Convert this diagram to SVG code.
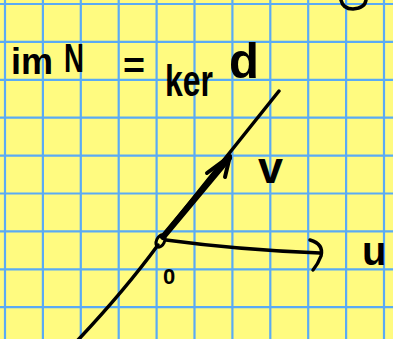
<svg xmlns="http://www.w3.org/2000/svg" width="393" height="339" viewBox="0 0 393 339">
<defs>
<style>
.grid line{stroke:#5aabf5;stroke-width:2.2}
.ink{fill:none;stroke:#000;stroke-linecap:round;stroke-linejoin:round}
.hand{font-family:"Liberation Sans","DejaVu Sans",sans-serif;font-weight:bold;fill:#000}
</style>
</defs>
<rect width="393" height="339" fill="#fffb80"/>
<g class="grid">
<line x1="5" y1="0" x2="5" y2="339"/><line x1="42.9" y1="0" x2="42.9" y2="339"/><line x1="80.8" y1="0" x2="80.8" y2="339"/><line x1="118.7" y1="0" x2="118.7" y2="339"/><line x1="156.6" y1="0" x2="156.6" y2="339"/><line x1="194.5" y1="0" x2="194.5" y2="339"/><line x1="232.4" y1="0" x2="232.4" y2="339"/><line x1="270.3" y1="0" x2="270.3" y2="339"/><line x1="308.2" y1="0" x2="308.2" y2="339"/><line x1="346.1" y1="0" x2="346.1" y2="339"/><line x1="384" y1="0" x2="384" y2="339"/>
<line x1="0" y1="4" x2="393" y2="4"/><line x1="0" y1="41.9" x2="393" y2="41.9"/><line x1="0" y1="79.8" x2="393" y2="79.8"/><line x1="0" y1="117.7" x2="393" y2="117.7"/><line x1="0" y1="155.6" x2="393" y2="155.6"/><line x1="0" y1="193.5" x2="393" y2="193.5"/><line x1="0" y1="231.4" x2="393" y2="231.4"/><line x1="0" y1="269.3" x2="393" y2="269.3"/><line x1="0" y1="307.2" x2="393" y2="307.2"/>
</g>
<g id="connectors">
<path class="ink" stroke-width="3.5" d="M78,340 Q125,290 158,245 M163,236 L279,91"/>
<path class="ink" stroke-width="6" d="M163,237 L229,158"/>
<path class="ink" stroke-width="4" d="M207,173 L230,156 L225,177"/>
<path class="ink" stroke-width="3.5" d="M166,240 Q240,250 320,253"/>
<path class="ink" stroke-width="3.5" d="M310,240 Q324,244 321,256 Q318,264 313,270"/>
<ellipse class="ink" stroke-width="3" cx="160.5" cy="241" rx="4" ry="6.5" transform="rotate(25 160.5 241)"/>
<path class="ink" stroke-width="3.5" d="M341,0 Q343,9 353,9 Q365,8 366,0"/>
</g>
<g id="label-title">
<text class="hand" font-size="36" x="11" y="74" textLength="42" lengthAdjust="spacingAndGlyphs">im</text>
<text class="hand" font-size="40" x="64" y="72" textLength="20" lengthAdjust="spacingAndGlyphs">N</text>
<text class="hand" font-size="36" x="123" y="78" textLength="22" lengthAdjust="spacingAndGlyphs">=</text>
<text class="hand" font-size="44" x="165" y="96" textLength="48" lengthAdjust="spacingAndGlyphs">ker</text>
<text class="hand" font-size="50" x="229" y="78" textLength="30" lengthAdjust="spacingAndGlyphs">d</text>
</g>
<g id="label-v"><text class="hand" font-size="44" x="258" y="183" textLength="25" lengthAdjust="spacingAndGlyphs">v</text></g>
<g id="label-u"><text class="hand" font-size="40" x="362" y="265">u</text></g>
<g id="label-0"><text class="hand" font-size="22" x="163" y="284">0</text></g>
</svg>
